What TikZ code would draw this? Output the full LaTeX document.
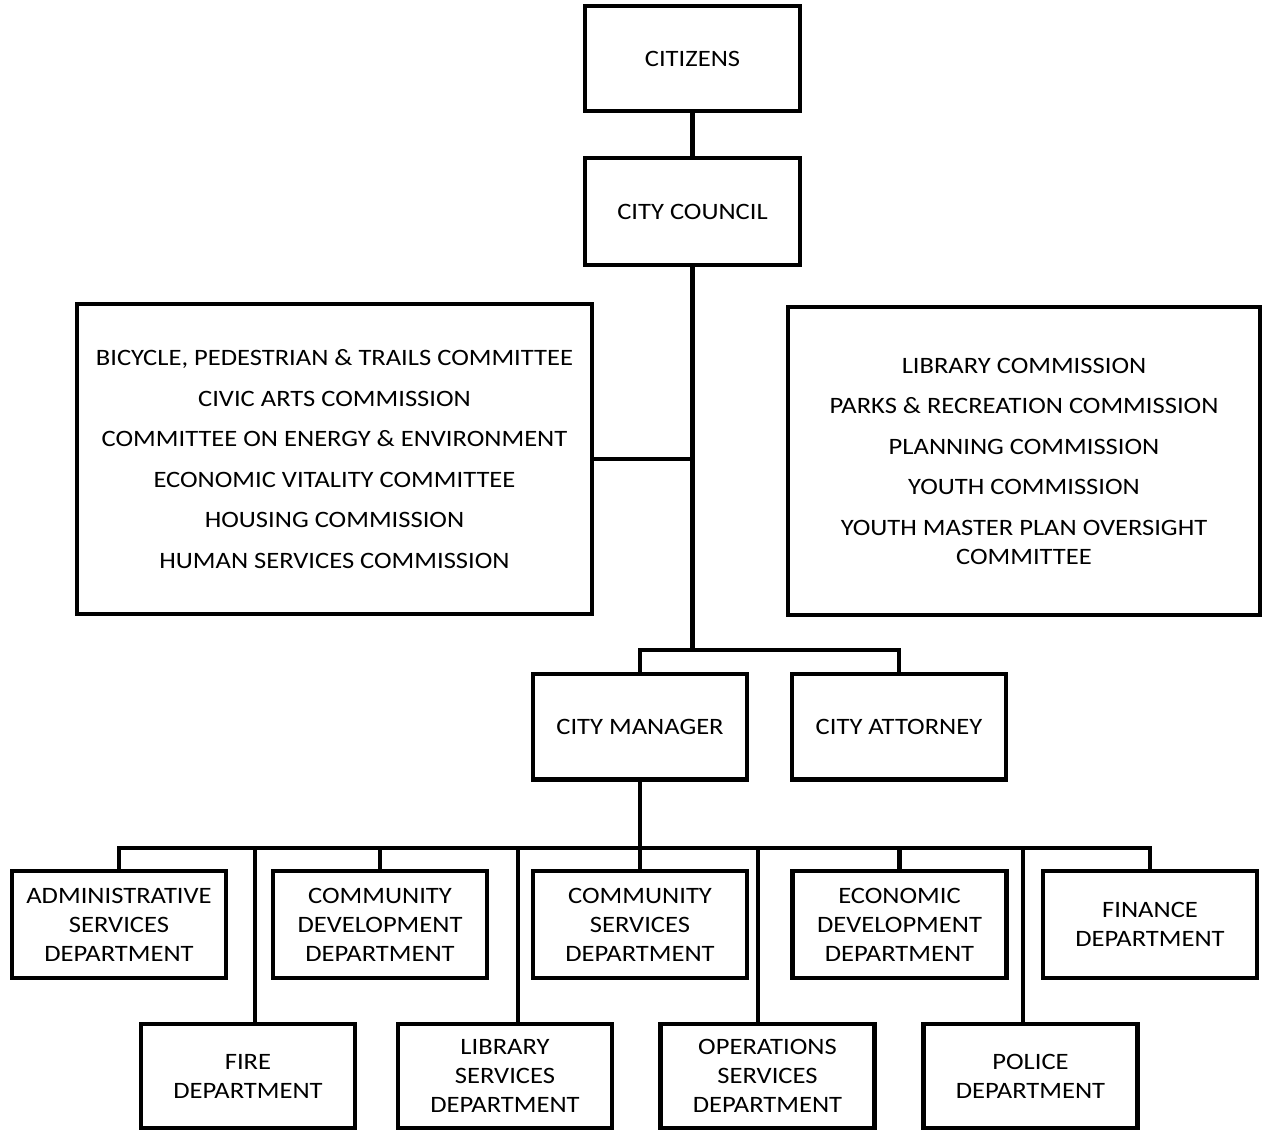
\documentclass[tikz,border=0pt]{standalone}
\usepackage{fontspec}
\setmainfont{Carlito}[FakeStretch=1.13]
\begin{document}
\begin{tikzpicture}[x=1pt,y=-1pt,
  box/.style={draw, line width=4.5pt, rectangle, inner sep=0pt, align=center,
    font=\fontsize{23.5}{29}\selectfont, minimum width=214pt, minimum height=107pt},
  conn/.style={line width=4.5pt}]
\useasboundingbox (0,0) rectangle (1265,1132);
% top
\node[box, minimum width=215pt, minimum height=105pt] (cit) at (692.5,58.5) {CITIZENS};
\node[box, minimum width=215pt, minimum height=107pt] (cc) at (692.5,211.5) {CITY COUNCIL};
% committees
\node[box, minimum width=515pt, minimum height=310pt] (lc) at (334.5,459) {BICYCLE, PEDESTRIAN \& TRAILS COMMITTEE\\[11.5pt]
CIVIC ARTS COMMISSION\\[11.5pt]
COMMITTEE ON ENERGY \& ENVIRONMENT\\[11.5pt]
ECONOMIC VITALITY COMMITTEE\\[11.5pt]
HOUSING COMMISSION\\[11.5pt]
HUMAN SERVICES COMMISSION};
\node[box, minimum width=472pt, minimum height=308pt] (rc) at (1024,461) {LIBRARY COMMISSION\\[11.5pt]
PARKS \& RECREATION COMMISSION\\[11.5pt]
PLANNING COMMISSION\\[11.5pt]
YOUTH COMMISSION\\[11.5pt]
YOUTH MASTER PLAN OVERSIGHT\\
COMMITTEE};
% manager / attorney
\node[box, minimum height=105.5pt] (cm) at (640,726.5) {CITY MANAGER};
\node[box, minimum height=105.5pt] (ca) at (899,726.5) {CITY ATTORNEY};
% departments top row
\node[box] (adm) at (119,924.5) {ADMINISTRATIVE\\SERVICES\\DEPARTMENT};
\node[box] (cdd) at (380,924.5) {COMMUNITY\\DEVELOPMENT\\DEPARTMENT};
\node[box] (csd) at (640,924.5) {COMMUNITY\\SERVICES\\DEPARTMENT};
\node[box] (edd) at (899.5,924.5) {ECONOMIC\\DEVELOPMENT\\DEPARTMENT};
\node[box] (fin) at (1150,924.5) {FINANCE\\DEPARTMENT};
% departments bottom row
\node[box, minimum height=104pt] (fire) at (248,1076) {FIRE\\DEPARTMENT};
\node[box, minimum height=104pt] (lib) at (505,1076) {LIBRARY\\SERVICES\\DEPARTMENT};
\node[box, minimum height=104pt] (ops) at (767.5,1076) {OPERATIONS\\SERVICES\\DEPARTMENT};
\node[box, minimum height=104pt] (pol) at (1030.5,1076) {POLICE\\DEPARTMENT};
% connector coordinates
\coordinate (b1) at (692.5,650);
\coordinate (b2) at (640,848);
\coordinate (j1) at (692.5,459);
% connectors
\draw[conn] (cit.south) -- (cc.north);
\draw[conn] (cc.south) -- (b1);
\draw[conn] (lc.east) -- (j1);
\draw[conn] (cm.north) |- (b1) -| (ca.north);
\draw[conn] (cm.south) -- (b2);
\draw[conn] (adm.north) |- (b2) -| (fin.north);
\draw[conn] (cdd.north) -- (cdd.north |- b2);
\draw[conn] (csd.north) -- (b2);
\draw[conn] (edd.north) -- (edd.north |- b2);
\draw[conn] (fire.north -| 255,0) -- (b2 -| 255,0);
\draw[conn] (lib.north -| 518,0) -- (b2 -| 518,0);
\draw[conn] (ops.north -| 758,0) -- (b2 -| 758,0);
\draw[conn] (pol.north -| 1023,0) -- (b2 -| 1023,0);
\end{tikzpicture}
\end{document}
